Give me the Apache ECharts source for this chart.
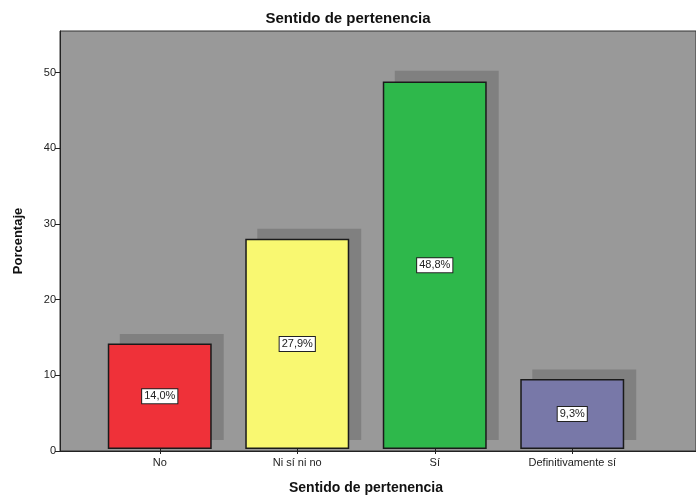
<!DOCTYPE html>
<html>
<head>
<meta charset="utf-8">
<script src="https://cdn.jsdelivr.net/npm/echarts@6/dist/echarts.min.js"></script>
<style>
  html, body { margin: 0; padding: 0; background: #fff; }
  #chart { width: 696px; height: 500px; }
</style>
</head>
<body>
<div id="chart"></div>
<script>
// datos
const categorias = ["No", "Ni sí ni no", "Sí", "Definitivamente sí"];
const porcentajes = [14.0, 27.9, 48.8, 9.3];
const colores = ["#ef3139", "#f9f871", "#2eb84b", "#7878a8"];
const yTicks = [0, 10, 20, 30, 40, 50];

let chart = echarts.init(document.getElementById("chart"));

const yMax = 55.5;

let option = {
  animation: false,
  textStyle: { fontFamily: "Liberation Sans, Arial, sans-serif" },
  title: {
    text: "Sentido de pertenencia",
    left: "center",
    top: 6,
    textStyle: { fontSize: 15, fontWeight: "bold", color: "#111" },
  },
  grid: [
    // fondo gris + eje Y
    {
      left: 60, right: -2, top: 31, bottom: 49,
      show: true,
      backgroundColor: "#999999",
      borderColor: "#333",
      borderWidth: 1,
    },
    // barras
    { left: 91, right: 55, top: 31, bottom: 49 },
    // sombra (desplazada 12px a la derecha y 11px arriba)
    { left: 103, right: 43, top: 20, bottom: 60 },
  ],
  xAxis: [
    {
      gridIndex: 0, type: "value", min: 0, max: 1,
      axisLine: { show: true, lineStyle: { color: "#222", width: 1 } },
      axisTick: { show: false }, axisLabel: { show: false }, splitLine: { show: false },
    },
    {
      gridIndex: 1, type: "category", data: categorias,
      name: "Sentido de pertenencia",
      nameLocation: "middle",
      nameGap: 32,
      nameTextStyle: { fontSize: 14, fontWeight: "bold", color: "#111" },
      axisLine: { show: false },
      axisTick: { show: true, alignWithLabel: true, length: 5, lineStyle: { color: "#222" } },
      axisLabel: { fontSize: 11, color: "#222", margin: 8 },
    },
    {
      gridIndex: 2, type: "category", data: categorias, show: false,
    },
  ],
  yAxis: [
    {
      gridIndex: 0, type: "value", min: 0, max: yMax,
      name: "Porcentaje",
      nameLocation: "middle",
      nameGap: 35,
      nameTextStyle: { fontSize: 13, fontWeight: "bold", color: "#111" },
      axisLine: { show: true, lineStyle: { color: "#222" } },
      axisTick: { show: true, length: 5, customValues: yTicks, lineStyle: { color: "#222" } },
      axisLabel: { fontSize: 11, color: "#222", margin: 4, customValues: yTicks },
      splitLine: { show: false },
    },
    { gridIndex: 1, type: "value", min: 0, max: yMax, show: false },
    { gridIndex: 2, type: "value", min: 0, max: yMax, show: false },
  ],
  series: [
    {
      type: "bar",
      xAxisIndex: 2,
      yAxisIndex: 2,
      barWidth: "75.6%",
      silent: true,
      z: 1,
      data: porcentajes,
      itemStyle: { color: "#808080" },
    },
    {
      type: "bar",
      xAxisIndex: 1,
      yAxisIndex: 1,
      barWidth: "75.6%",
      z: 3,
      data: porcentajes.map((v, i) => ({
        value: v,
        itemStyle: { color: colores[i] },
      })),
      itemStyle: {
        borderColor: "#1a1a1a",
        borderWidth: 1.5,
      },
      label: {
        show: true,
        position: "inside",
        formatter: (p) => p.value.toFixed(1).replace(".", ",") + "%",
        fontSize: 11,
        color: "#222",
        backgroundColor: "#fff",
        borderColor: "#222",
        borderWidth: 1,
        padding: [2, 2, 1, 2],
      },
    },
  ],
};

chart.setOption(option);
</script>
</body>
</html>
